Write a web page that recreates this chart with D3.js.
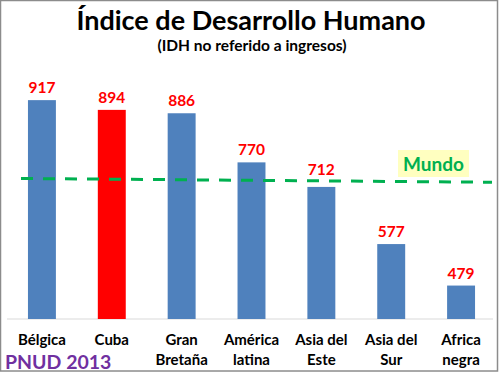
<!DOCTYPE html>
<html>
<head>
<meta charset="utf-8">
<script src="https://cdn.jsdelivr.net/npm/d3@7"></script>
<style>
  body { margin: 0; background: #fff; }
  text { font-family: Lato, "Open Sans", sans-serif; font-weight: bold; }
</style>
</head>
<body>
<svg width="500" height="374"></svg>
<script>
// data
var regions = [["Bélgica"], ["Cuba"], ["Gran", "Bretaña"], ["América", "latina"],
               ["Asia del", "Este"], ["Asia del", "Sur"], ["Africa", "negra"]];
var idh = [917, 894, 886, 770, 712, 577, 479];
var highlight = ["Cuba"];
var mundo = [732, 723];   // world line, left end and right end

var svg = d3.select("svg"),
    margin = {top: 65, bottom: 55},
    height = 374 - margin.top - margin.bottom;

var data = regions.map(function(r, i) {
  return {id: r.join(" "), lines: r, value: idh[i]};
});

var x = d3.scaleBand()
    .domain(data.map(function(d) { return d.id; }))
    .range([7, 496])
    .paddingInner(0.6)
    .paddingOuter(0.3);

var y = d3.scaleLinear().domain([400, 1000]).range([margin.top + height, margin.top]);

// frame
svg.append("rect")
  .attr("x", 0.5).attr("y", 0.5)
  .attr("width", 497).attr("height", 370.5)
  .attr("fill", "none")
  .attr("stroke", "#8c8c8c")
  .attr("stroke-width", 1.5);

// titles
svg.append("text")
  .attr("x", 251).attr("y", 30)
  .attr("text-anchor", "middle")
  .style("font-size", "27px")
  .text("Índice de Desarrollo Humano");

svg.append("text")
  .attr("x", 252).attr("y", 51)
  .attr("text-anchor", "middle")
  .style("font-size", "15.5px")
  .text("(IDH no referido a ingresos)");

// baseline
svg.append("line")
  .attr("x1", 7).attr("x2", 493)
  .attr("y1", y(400)).attr("y2", y(400))
  .attr("stroke", "#d9d9d9")
  .attr("stroke-width", 1);

// bars
svg.selectAll(".bar")
  .data(data)
  .enter().append("rect")
    .attr("class", "bar")
    .attr("x", function(d) { return x(d.id); })
    .attr("width", x.bandwidth())
    .attr("y", function(d) { return y(d.value); })
    .attr("height", function(d) { return y(400) - y(d.value); })
    .attr("fill", function(d) { return highlight.indexOf(d.id) >= 0 ? "#ff0000" : "#4f81bd"; });

// world line
var xm = d3.scaleLinear().domain([0, 1]).range([21, 492]);
function mundoY(px) {
  var t = (px - 21) / (492 - 21);
  return y(mundo[0] + (mundo[1] - mundo[0]) * t);
}

// value labels (lifted a bit where they would sit on the world line)
svg.selectAll(".val")
  .data(data)
  .enter().append("text")
    .attr("class", "val")
    .attr("x", function(d) { return x(d.id) + x.bandwidth() / 2; })
    .attr("y", function(d) {
      var top = y(d.value),
          ly = mundoY(x(d.id) + x.bandwidth() / 2);
      return (top > ly && top - ly < 12) ? top - 12 : top - 7;
    })
    .attr("text-anchor", "middle")
    .attr("fill", "#ff0000")
    .style("font-size", "15.5px")
    .text(function(d) { return d.value; });

// category labels
var cat = svg.selectAll(".cat")
  .data(data)
  .enter().append("text")
    .attr("class", "cat")
    .attr("text-anchor", "middle")
    .attr("fill", "#000")
    .style("font-size", "15px");

cat.selectAll("tspan")
  .data(function(d) { return d.lines.map(function(l) { return {id: d.id, t: l}; }); })
  .enter().append("tspan")
    .attr("x", function(d) { return x(d.id) + x.bandwidth() / 2; })
    .attr("y", function(d, i) { return 345 + i * 19.5; })
    .text(function(d) { return d.t; });

svg.append("path")
  .datum(mundo)
  .attr("d", d3.line()
    .x(function(d, i) { return xm(i); })
    .y(function(d) { return y(d); }))
  .attr("fill", "none")
  .attr("stroke", "#00b050")
  .attr("stroke-width", 3)
  .attr("stroke-dasharray", "12,10");

svg.append("rect")
  .attr("x", 398).attr("y", 150)
  .attr("width", 71).attr("height", 27)
  .attr("fill", "#ffffc0");

svg.append("text")
  .attr("x", 433.5).attr("y", 170.5)
  .attr("text-anchor", "middle")
  .attr("fill", "#00b050")
  .style("font-size", "19px")
  .text("Mundo");

svg.append("text")
  .attr("x", 5).attr("y", 369)
  .attr("fill", "#7030a0")
  .style("font-size", "19.5px")
  .text("PNUD 2013");
</script>
</body>
</html>
